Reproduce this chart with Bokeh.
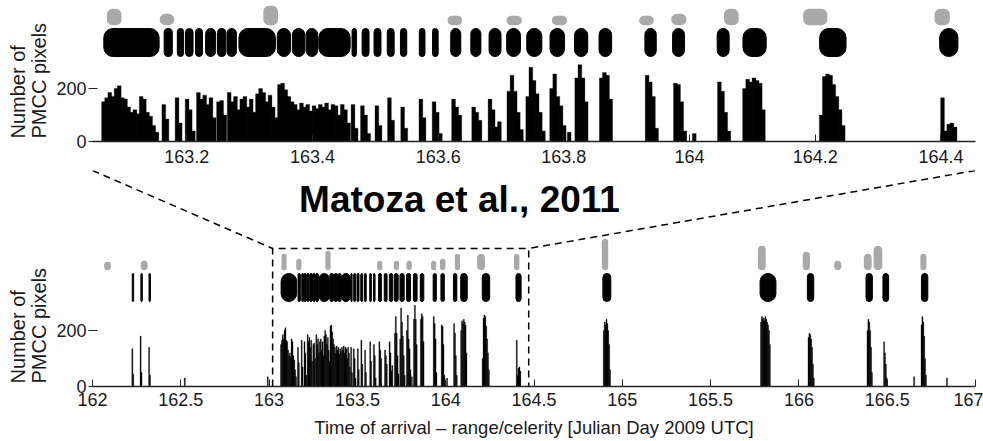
from bokeh.plotting import figure
from bokeh.models import Range1d, FixedTicker, Label, Title
from bokeh.layouts import column
from bokeh.embed import file_html
from bokeh.resources import INLINE

# ---------------- data ----------------
BIN = 0.005  # histogram bin width [days]

# histogram runs: start day of first bin, then PMCC pixel counts per bin
hist_start = [
    162.223, 162.270, 162.318, 162.520, 162.990,
    163.065, 163.161, 163.182, 163.198, 163.216, 163.248, 163.265, 163.285,
    163.345, 163.410, 163.462, 163.477, 163.500, 163.520, 163.541, 163.570,
    163.591, 163.622, 163.654, 163.680, 163.710, 163.740, 163.778, 163.806,
    163.818, 163.857, 163.930, 163.975, 164.005, 164.045, 164.085, 164.207,
    164.400,
    164.893, 165.783, 166.052, 166.386, 166.480, 166.650, 166.692, 166.836,
]
hist_counts = [
    [135, 45], [180, 50], [140, 40], [30], [35],
    [150, 165, 185, 170, 200, 210, 165, 160, 130, 110, 120, 105, 170, 160, 110, 95, 60, 35],
    [140, 85], [165, 70], [160, 120, 40], [185, 160, 175, 140, 165, 90],
    [150, 155, 100], [185, 150, 170, 120],
    [160, 170, 130, 160, 110, 180, 200, 185, 150, 175, 130, 90],
    [215, 220, 195, 170, 150, 140, 120, 145, 130, 140, 115, 135, 125],
    [140, 130, 145, 120, 140, 135, 100, 140, 120, 70],
    [140, 50], [135, 100, 30], [135, 60], [165, 80], [130, 50], [160, 90],
    [150, 110, 30], [160, 130, 100], [130, 110, 80], [160, 120, 55, 75],
    [190, 250, 190, 110, 45], [170, 280, 230, 180, 110, 40],
    [200, 255, 170, 135, 60], [35],
    [240, 290, 240, 150], [240, 260, 250, 160], [250, 225, 170, 50],
    [220, 215, 150, 40], [30], [225, 190, 110, 40],
    [200, 235, 225, 240, 230, 220, 120],
    [100, 245, 255, 250, 215, 170, 120, 60],
    [165, 40, 65, 70, 55],
    [200, 230, 220, 240, 225, 200, 150, 60],
    [230, 250, 240, 245, 235, 250, 240, 230, 220, 200, 150],
    [175, 190, 185, 170, 140, 80, 30],
    [200, 240, 230, 200, 140, 50],
    [160, 120, 80, 30], [35],
    [220, 250, 230, 180, 100, 40], [30],
]

# detected events (black bars): start / end [days]
event_start = [162.225, 162.274, 162.320, 163.068, 163.164, 163.185, 163.198, 163.214,
               163.230, 163.249, 163.264, 163.283, 163.344, 163.368, 163.390, 163.410,
               163.463, 163.479, 163.498, 163.519, 163.540, 163.570, 163.591, 163.620,
               163.652, 163.681, 163.709, 163.741, 163.778, 163.817, 163.856, 163.929,
               163.973, 164.044, 164.085, 164.207, 164.398,
               164.890, 165.780, 166.048, 166.380, 166.476, 166.694]
event_end = [162.233, 162.282, 162.328, 163.156, 163.177, 163.195, 163.210, 163.225,
             163.246, 163.262, 163.279, 163.341, 163.365, 163.388, 163.408, 163.460,
             163.470, 163.490, 163.509, 163.530, 163.550, 163.579, 163.600, 163.636,
             163.668, 163.700, 163.731, 163.765, 163.801, 163.838, 163.876, 163.947,
             163.992, 164.063, 164.122, 164.249, 164.427,
             164.935, 165.870, 166.084, 166.416, 166.508, 166.730]

# grey markers: start / end [days] and relative magnitude
gray_start = [162.070, 162.278, 163.074, 163.158, 163.323, 163.616, 163.710, 163.782,
              163.921, 163.972, 164.056, 164.182, 164.391, 164.888, 165.772, 166.026,
              166.204, 166.372, 166.427, 166.692]
gray_end = [162.100, 162.308, 163.095, 163.179, 163.344, 163.637, 163.732, 163.804,
            163.942, 163.994, 164.077, 164.218, 164.413, 164.916, 165.808, 166.058,
            166.236, 166.408, 166.468, 166.718]
gray_size = [7, 8, 15, 10, 18, 8, 8, 8, 8, 10, 15, 15, 15, 30, 23, 17, 8, 15, 23, 15]

top_ticks = [163.2, 163.4, 163.6, 163.8, 164.0, 164.2, 164.4]
bottom_ticks = [162, 162.5, 163, 163.5, 164, 164.5, 165, 165.5, 166, 166.5, 167]
y_ticks = [0, 200]

citation = "Matoza et al., 2011"
x_title = "Time of arrival \u2013 range/celerity [Julian Day 2009 UTC]"
y_title = "Number of\nPMCC pixels"

# ---------------- layout / style ----------------
FONT = "Liberation Sans"
TICK_FONT = "'Liberation Sans Narrow', 'Liberation Sans', sans-serif"
W = 983
LEFT = 92               # frame starts at page x = 92
RIGHT = 8               # frame ends at page x = 975
FRAME_W = W - LEFT - RIGHT
TOP_XR = (163.05, 164.455)
BOT_XR = (162.0, 167.0)
TOP_H, TOP_FRAME_H, TOP_BORDER_T, TOP_PPU = 170, 139, 2, 53 / 200.0
BOT_H, BOT_FRAME_H, BOT_BORDER_T, BOT_PPU = 270, 216, 0, 56 / 200.0
BAR_LO, BAR_HI, GRAY_BASE = 85, 113, 117      # px above the baseline
AX = "#262626"
TXT = "#1a1a1a"
GRAY = "#a9a9a9"

hx, hy = [], []
for s, counts in zip(hist_start, hist_counts):
    for i, c in enumerate(counts):
        hx.append(s + (i + 0.5) * BIN)
        hy.append(c)


def inside(lo, hi, xr):
    return [i for i in range(len(lo)) if hi[i] >= xr[0] and lo[i] <= xr[1]]


def panel(xr, h, frame_h, border_t, ppu, ticks, standoff):
    p = figure(width=W, height=h, x_range=Range1d(*xr), y_range=Range1d(0, frame_h / ppu),
               output_backend="svg", toolbar_location=None,
               min_border_left=LEFT, min_border_right=RIGHT, min_border_top=border_t,
               min_border_bottom=h - frame_h - border_t)
    p.outline_line_color = None
    p.grid.visible = False

    hi = inside(hx, hx, xr)
    p.vbar(x=[hx[i] for i in hi], top=[hy[i] for i in hi], width=BIN * 1.2,
           fill_color="black", line_color="black", line_width=0.3)
    ei = inside(event_start, event_end, xr)
    p.quad(left=[event_start[i] for i in ei], right=[event_end[i] for i in ei],
           bottom=BAR_LO / ppu, top=BAR_HI / ppu,
           fill_color="black", line_color="black", line_width=1, border_radius=9)
    gi = inside(gray_start, gray_end, xr)
    p.quad(left=[gray_start[i] for i in gi], right=[gray_end[i] for i in gi],
           bottom=GRAY_BASE / ppu, top=[(GRAY_BASE + gray_size[i]) / ppu for i in gi],
           fill_color=GRAY, line_color=GRAY, line_width=1.5, border_radius=5)

    xa = p.xaxis[0]
    xa.ticker = FixedTicker(ticks=ticks)
    xa.major_label_overrides = {t: f"{t:g}" for t in ticks}
    xa.major_label_text_font = TICK_FONT
    xa.major_label_text_font_size = "18px"
    xa.major_label_text_color = TXT
    xa.major_label_standoff = standoff
    xa.axis_line_color = AX
    xa.axis_line_width = 1.3
    xa.major_tick_line_color = AX
    xa.major_tick_in = 7
    xa.major_tick_out = 0
    xa.minor_tick_in = 0
    xa.minor_tick_out = 0

    ya = p.yaxis[0]
    ya.ticker = FixedTicker(ticks=y_ticks)
    ya.axis_line_color = None
    ya.major_tick_line_color = AX
    ya.major_tick_in = 5
    ya.major_tick_out = 4
    ya.minor_tick_in = 0
    ya.minor_tick_out = 0
    ya.major_label_standoff = 2
    ya.major_label_text_font = TICK_FONT
    ya.major_label_text_font_size = "18px"
    ya.major_label_text_color = TXT

    # y title on the left side, starting near the baseline and reading upwards
    p.add_layout(Title(text=y_title, align="left", offset=3,
                       text_font=FONT, text_font_size="20px", text_font_style="normal",
                       text_color=TXT, text_line_height=0.95, standoff=7), "left")
    return p


top = panel(TOP_XR, TOP_H, TOP_FRAME_H, TOP_BORDER_T, TOP_PPU, top_ticks, 8)
bot = panel(BOT_XR, BOT_H, BOT_FRAME_H, BOT_BORDER_T, BOT_PPU, bottom_ticks, 6)

bot.xaxis.axis_label = x_title
bot.xaxis.axis_label_text_font = FONT
bot.xaxis.axis_label_text_font_size = "18.5px"
bot.xaxis.axis_label_text_font_style = "normal"
bot.xaxis.axis_label_text_color = TXT
bot.xaxis.axis_label_standoff = 8

# zoom box and connectors (dashed)
bot_ppx = FRAME_W / (BOT_XR[1] - BOT_XR[0])
BOX_L, BOX_R = 163.02, 164.47
box_top = 138 / BOT_PPU
link_top = 216 / BOT_PPU
bot.multi_line(xs=[[BOT_XR[0], BOX_L], [BOT_XR[1], BOX_R], [BOX_L, BOX_L, BOX_R, BOX_R]],
               ys=[[link_top, box_top], [link_top, box_top], [0, box_top, box_top, 0]],
               line_color="black", line_width=1.5, line_dash="7 5")

bot.add_layout(Label(x=BOT_XR[0] + 367 / bot_ppx, y=187 / BOT_PPU, text=citation,
                     text_align="center", text_baseline="middle", text_font=FONT,
                     text_font_size="37px", text_font_style="bold", text_color="black"))

layout = column(top, bot, spacing=0)
open("out.html", "w").write(file_html(layout, INLINE))
